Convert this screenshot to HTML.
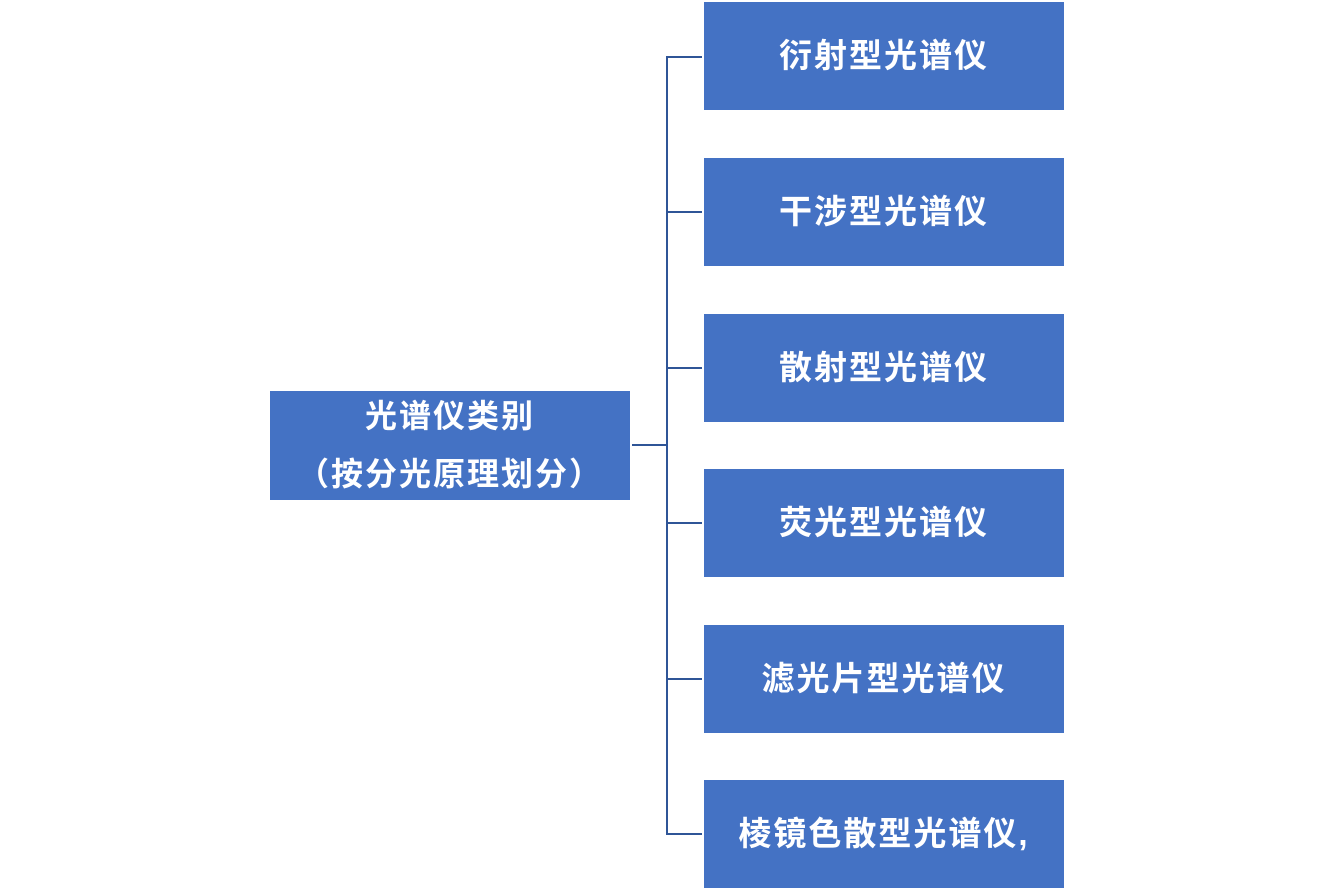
<!DOCTYPE html>
<html><head><meta charset="utf-8"><style>
body{margin:0;width:1334px;height:891px;background:#fff;position:relative;overflow:hidden;font-family:"Liberation Sans","Noto Sans CJK SC",sans-serif;}
.b{position:absolute;background:#4472C4;color:#fff;font-size:33px;font-weight:bold;display:flex;align-items:center;justify-content:center;text-align:center;letter-spacing:2px;box-sizing:border-box;}
.r{left:704px;width:360px;height:108px;padding-bottom:6px;}
.l{position:absolute;background:#2F5597;}
</style></head><body>
<div class="b" style="left:270px;top:391px;width:360px;height:109px;line-height:58px;font-size:32px;padding-bottom:2px;">光谱仪类别<br>（按分光原理划分）</div>
<div class="b r" style="top:2px">衍射型光谱仪</div>
<div class="b r" style="top:158px">干涉型光谱仪</div>
<div class="b r" style="top:314px">散射型光谱仪</div>
<div class="b r" style="top:469px">荧光型光谱仪</div>
<div class="b r" style="top:625px">滤光片型光谱仪</div>
<div class="b r" style="top:780px">棱镜色散型光谱仪,</div>
<div class="l" style="left:632px;top:444px;width:36px;height:2px"></div>
<div class="l" style="left:666px;top:56px;width:2px;height:779px"></div>
<div class="l" style="left:666px;top:56px;width:36px;height:2px"></div>
<div class="l" style="left:666px;top:211px;width:36px;height:2px"></div>
<div class="l" style="left:666px;top:367px;width:36px;height:2px"></div>
<div class="l" style="left:666px;top:522px;width:36px;height:2px"></div>
<div class="l" style="left:666px;top:678px;width:36px;height:2px"></div>
<div class="l" style="left:666px;top:833px;width:36px;height:2px"></div>
</body></html>
